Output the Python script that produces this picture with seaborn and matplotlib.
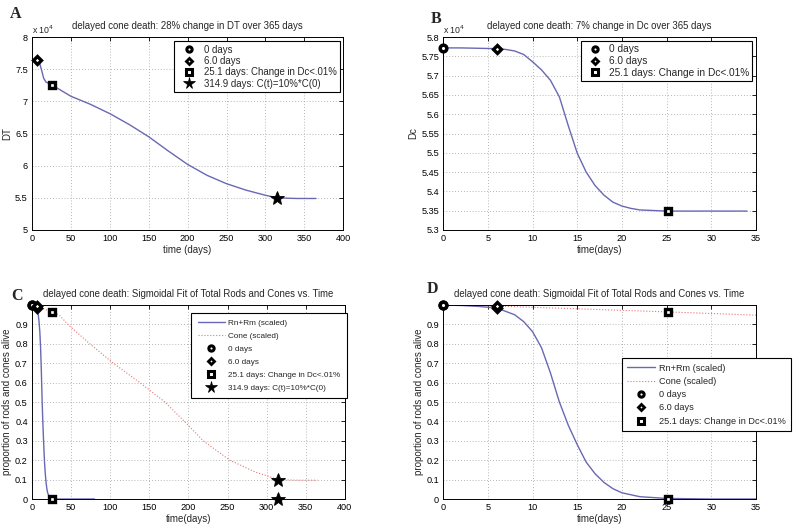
import numpy as np
import pandas as pd
import matplotlib
matplotlib.use("Agg")
import matplotlib.pyplot as plt
import seaborn as sns
from matplotlib.lines import Line2D
from matplotlib.ticker import FuncFormatter

# ---------------------------------------------------------------
# values
# ---------------------------------------------------------------
# A: total DT over time
dt_days = [0, 6, 9, 12, 15, 18, 25, 50, 75, 100, 125, 150, 175, 200, 225, 250, 275, 300, 315, 340, 365]
dt_vals = [76500, 76500, 76300, 75000, 73600, 73000, 72600, 70800, 69550, 68100, 66400, 64500, 62300,
           60200, 58500, 57200, 56200, 55400, 55000, 54900, 54900]

# B: Dc over time
dc_days = [0, 2, 4, 6, 7, 8, 9, 10, 11, 12, 13, 14, 15, 16, 17, 18, 19, 20, 21, 22, 24, 25, 28, 31, 34]
dc_vals = [57720, 57720, 57710, 57700, 57680, 57640, 57550, 57360, 57150, 56880, 56450, 55700, 54990,
           54500, 54150, 53900, 53720, 53620, 53560, 53520, 53500, 53490, 53490, 53490, 53490]

# C/D: scaled rods and cones
rod_days = [0, 2, 4, 6, 8, 9, 10, 11, 12, 13, 14, 15, 16, 17, 18, 19, 20, 22, 25, 30, 35, 50, 80]
rod_vals = [1.0, 0.998, 0.993, 0.985, 0.95, 0.915, 0.863, 0.78, 0.65, 0.50, 0.38, 0.28, 0.19, 0.13,
            0.085, 0.053, 0.032, 0.012, 0.003, 0.0, 0.0, 0.0, 0.0]

cone_days = [0, 6, 25, 35, 46, 74, 104, 138, 170, 195, 219, 253, 285, 315, 340, 365]
cone_vals = [1.0, 0.995, 0.965, 0.948, 0.9, 0.8, 0.7, 0.6, 0.5, 0.4, 0.3, 0.2, 0.14, 0.1, 0.097, 0.097]

# event markers
event_days = [0, 6.0, 25.1, 314.9]
event_labels = ["0 days", "6.0 days", "25.1 days: Change in Dc<.01%", "314.9 days: C(t)=10%*C(0)"]
dt_event = [None, 76500, 72600, 55000]
dc_event = [57720, 57700, 53490]
rod_event = [1.0, 0.985, 0.0, 0.0]
cone_event = [1.0, 0.997, 0.965, 0.1]

titles = ["delayed cone death: 28% change in DT over 365 days",
          "delayed cone death: 7% change in Dc over 365 days",
          "delayed cone death: Sigmoidal Fit of Total Rods and Cones vs. Time",
          "delayed cone death: Sigmoidal Fit of Total Rods and Cones vs. Time"]

# ---------------------------------------------------------------
sns.set_theme(style="white")
plt.rcParams['font.family'] = ['Liberation Sans', 'DejaVu Sans']

BLUE = '#6868b4'
RED = '#e87474'
FS = 6.6

# marker, size, edge width (plot markers)
mstyle = [('o', 4.8, 2.5), ('D', 3.7, 2.4), ('s', 4.5, 2.4), ('*', 10, 0.6)]
# smaller ones for the legends
lstyle = [('o', 3.8, 2.2), ('D', 3.1, 2.0), ('s', 3.7, 2.2), ('*', 8.5, 0.5)]


def draw_marker(ax, i, x, y):
    m, ms, mew = mstyle[i]
    ax.plot([x], [y], marker=m, ms=ms, mfc='black' if m == '*' else 'white', mec='black',
            mew=mew, ls='none', clip_on=False, zorder=5)


def legend_handles(n, with_lines):
    hs = []
    if with_lines:
        hs.append(Line2D([], [], color=BLUE, lw=1.0, label="Rn+Rm (scaled)"))
        hs.append(Line2D([], [], color=RED, lw=0.8, ls=':', label="Cone (scaled)"))
    for i in range(n):
        m, ms, mew = lstyle[i]
        hs.append(Line2D([], [], marker=m, ms=ms, mfc='black' if m == '*' else 'white',
                         mec='black', mew=mew, ls='none', label=event_labels[i]))
    return hs


def style_axes(ax):
    ax.grid(True, linestyle=(0, (1, 2.5)), color='0.62', lw=0.6)
    ax.tick_params(direction='in', length=3, width=0.6, top=True, right=True,
                   labelsize=FS, pad=3, colors='black')
    for s in ax.spines.values():
        s.set_color('black')
        s.set_linewidth(0.7)
        s.set_visible(True)


def add_legend(ax, n, lines, anchor, fs, ls, bp, hl, htp):
    leg = ax.legend(handles=legend_handles(n, lines), loc='upper right', bbox_to_anchor=anchor,
                    fontsize=fs, frameon=True, fancybox=False, edgecolor='black',
                    handlelength=hl, handletextpad=htp, labelspacing=ls, borderpad=bp,
                    borderaxespad=0, framealpha=1)
    leg.get_frame().set_linewidth(0.8)
    leg.set_zorder(10)


fig = plt.figure(figsize=(8, 5.27), dpi=100)
fig.patch.set_facecolor('white')
axA = fig.add_axes([0.040, 0.5636, 0.389, 0.366])
axB = fig.add_axes([0.554, 0.5636, 0.391, 0.366])
axC = fig.add_axes([0.040, 0.0531, 0.391, 0.368])
axD = fig.add_axes([0.554, 0.0531, 0.391, 0.368])

sci = FuncFormatter(lambda v, p: f"{v / 1e4:g}")

# ---- A ----
dfA = pd.DataFrame({'t': dt_days, 'DT': dt_vals})
sns.lineplot(data=dfA, x='t', y='DT', ax=axA, color=BLUE, lw=1.0, estimator=None)
for i in range(1, 4):
    draw_marker(axA, i, event_days[i], dt_event[i])
axA.set_xlim(0, 400)
axA.set_ylim(50000, 80000)
axA.set_xticks(np.arange(0, 401, 50))
axA.set_yticks(np.arange(50000, 80001, 5000))
axA.yaxis.set_major_formatter(sci)
axA.set_xlabel("time (days)", fontsize=FS + 0.4, labelpad=1)
axA.set_ylabel("DT", fontsize=FS + 0.4, labelpad=2)
axA.text(0.0, 1.015, r"x 10$^4$", transform=axA.transAxes, fontsize=FS - 0.3)
add_legend(axA, 4, False, (0.99, 0.979), 6.9, 0.15, 0.35, 2.6, 0.2)

# ---- B ----
dfB = pd.DataFrame({'t': dc_days, 'Dc': dc_vals})
sns.lineplot(data=dfB, x='t', y='Dc', ax=axB, color=BLUE, lw=1.0, estimator=None)
for i in range(3):
    draw_marker(axB, i, event_days[i], dc_event[i])
axB.set_xlim(0, 35)
axB.set_ylim(53000, 58000)
axB.set_xticks(np.arange(0, 36, 5))
axB.set_yticks(np.arange(53000, 58001, 500))
axB.yaxis.set_major_formatter(sci)
axB.set_xlabel("time(days)", fontsize=FS + 0.4, labelpad=1)
axB.set_ylabel("Dc", fontsize=FS + 0.4, labelpad=2)
axB.text(0.0, 1.015, r"x 10$^4$", transform=axB.transAxes, fontsize=FS - 0.3)
add_legend(axB, 3, False, (0.987, 0.979), 7.3, 0.19, 0.3, 2.2, 0.2)

# ---- C and D ----
dfR = pd.DataFrame({'t': rod_days, 'v': rod_vals})
dfK = pd.DataFrame({'t': cone_days, 'v': cone_vals})
for ax, xmax, nev in [(axC, 400, 4), (axD, 35, 3)]:
    sns.lineplot(data=dfR, x='t', y='v', ax=ax, color=BLUE, lw=1.0, estimator=None)
    sns.lineplot(data=dfK, x='t', y='v', ax=ax, color=RED, lw=0.8, ls=':', estimator=None)
    for i in range(nev):
        draw_marker(ax, i, event_days[i], rod_event[i])
        draw_marker(ax, i, event_days[i], cone_event[i])
    ax.set_xlim(0, xmax)
    ax.set_ylim(0, 1)
    ax.set_xticks(np.arange(0, xmax + 1, 50 if xmax == 400 else 5))
    ax.set_yticks(np.round(np.arange(0, 0.95, 0.1), 1))
    ax.yaxis.set_major_formatter(FuncFormatter(lambda v, p: f"{v:g}"))
    ax.set_xlabel("time(days)", fontsize=FS + 0.4, labelpad=1)
    ax.set_ylabel("proportion of rods and cones alive", fontsize=FS + 0.4, labelpad=2)

add_legend(axC, 4, True, (1.006, 0.959), 5.9, 0.63, 0.8, 3.3, 0.4)
add_legend(axD, 3, True, (1.112, 0.727), 6.6, 0.47, 0.6, 3.0, 0.4)

for ax, t in zip([axA, axB, axC, axD], titles):
    ax.set_title(t, fontsize=FS + 0.3, pad=6)
    style_axes(ax)

# panel letters
for x, y, s in [(0.012, 0.966, 'A'), (0.538, 0.956, 'B'), (0.014, 0.431, 'C'), (0.534, 0.444, 'D')]:
    fig.text(x, y, s, fontsize=11.5, fontweight='bold', family='Liberation Serif')

fig.savefig("out.png", dpi=100)
